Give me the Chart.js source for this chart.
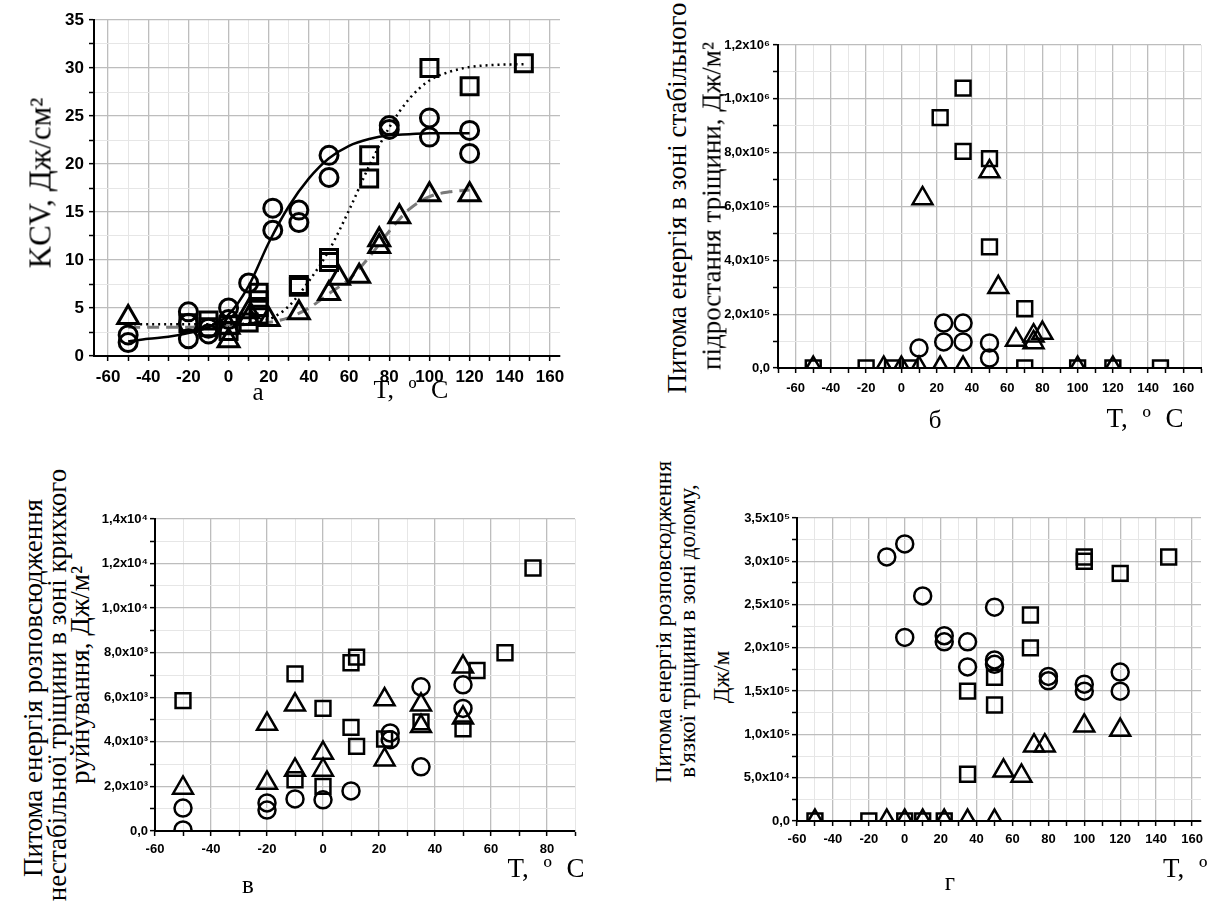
<!DOCTYPE html>
<html><head><meta charset="utf-8">
<script src="https://cdn.jsdelivr.net/npm/chart.js@4.4.0/dist/chart.umd.min.js"></script>
<style>
html,body{margin:0;padding:0;background:#fff;width:1215px;height:901px;overflow:hidden;position:relative;}
canvas{position:absolute;}
.lbl{position:absolute;font-family:"Liberation Serif","Times New Roman",serif;color:#000;white-space:pre;line-height:1;}
.rot{transform:translate(-50%,-50%) rotate(-90deg);}
.ctr{transform:translate(-50%,-50%);}
.tc{word-spacing:8px;}
</style></head><body>
<canvas id="ca" width="600" height="410" style="left:0;top:0"></canvas>
<canvas id="cb" width="495" height="440" style="left:720px;top:0"></canvas>
<canvas id="cc" width="500" height="451" style="left:100px;top:450px"></canvas>
<canvas id="cd" width="475" height="451" style="left:740px;top:450px"></canvas>

<div class="lbl rot" style="left:40px;top:183px;font-size:31px">KCV, Дж/см²</div>
<div class="lbl ctr" style="left:258px;top:391px;font-size:25px">а</div>
<div class="lbl ctr tc" style="left:411px;top:390px;font-size:26px">T, º C</div>

<div class="lbl rot" style="left:677px;top:198px;font-size:27px">Питома енергія в зоні стабільного</div>
<div class="lbl rot" style="left:712px;top:206px;font-size:27px">підростання тріщини, Дж/м²</div>
<div class="lbl ctr" style="left:935px;top:419px;font-size:25px">б</div>
<div class="lbl ctr tc" style="left:1145px;top:418px;font-size:27px">T, º C</div>

<div class="lbl rot" style="left:33px;top:688px;font-size:27px">Питома енергія розповсюдження</div>
<div class="lbl rot" style="left:57px;top:685px;font-size:27px">нестабільної тріщини в зоні крихкого</div>
<div class="lbl rot" style="left:80px;top:675px;font-size:27px">руйнування, Дж/м²</div>
<div class="lbl ctr" style="left:248px;top:884px;font-size:25px">в</div>
<div class="lbl ctr tc" style="left:546px;top:868px;font-size:27px">T, º C</div>

<div class="lbl rot" style="left:663px;top:622px;font-size:23px">Питома енергія розповсюдження</div>
<div class="lbl rot" style="left:687px;top:631px;font-size:23px">в'язкої тріщини в зоні долому,</div>
<div class="lbl rot" style="left:721px;top:677px;font-size:23px">Дж/м</div>
<div class="lbl ctr" style="left:950px;top:881px;font-size:25px">г</div>
<div class="lbl tc" style="left:1163px;top:855px;font-size:27px">T, º C</div>

<script>
// ---------- Panel а : KCV ----------
const A_circ_T = [-50,-50,-20,-20,-20,-10,-10,0,0,10,22,22,35,35,50,50,80,80,100,100,120,120];
const A_circ_V = [2.2,1.4,4.6,3.4,1.8,2.9,2.3,5.0,3.8,7.6,15.4,13.1,15.2,13.9,20.9,18.6,24.0,23.6,24.8,22.8,23.5,21.1];
const A_sq_T = [-20,-10,-10,0,0,10,15,15,15,15,35,35,50,50,70,70,100,120,147];
const A_sq_V = [3.4,3.7,3.0,3.2,2.6,3.5,6.6,5.8,5.1,4.3,7.4,7.2,10.2,9.8,20.9,18.5,30.0,28.1,30.5];
const A_tri_T = [-50,0,0,10,10,20,35,50,55,65,75,75,85,100,120];
const A_tri_V = [4.0,1.6,3.0,4.6,3.9,3.8,4.5,6.5,8.1,8.3,12.1,11.4,14.5,16.8,16.8];
// fitted curves
const A_fitC_T = [-50,-40,-30,-20,-10,0,10,20,30,40,50,60,70,80,90,100,110,120];
const A_fitC_V = [1.5,1.8,2.0,2.4,3.0,4.3,7.3,11.8,15.6,18.5,20.6,21.9,22.6,23.0,23.1,23.2,23.2,23.2];
const A_fitS_T = [-50,-40,-30,-20,-10,0,10,20,30,40,50,60,70,80,90,100,110,120,130,147];
const A_fitS_V = [3.3,3.3,3.3,3.3,3.3,3.3,3.4,3.8,5.2,7.8,11.0,15.2,19.8,23.8,26.8,28.7,29.6,30.1,30.3,30.4];
const A_fitT_T = [-50,-40,-30,-20,-10,0,10,20,30,40,50,60,70,80,90,100,110,120];
const A_fitT_V = [3.0,3.0,3.0,3.0,3.1,3.2,3.3,3.5,4.0,5.0,6.5,8.0,10.3,13.0,15.3,16.6,17.1,17.3];

// ---------- Panel б ----------
const B_sq_T = [-50,-20,-5,5,22,35,35,50,50,70,70,100,120,147];
const B_sq_V = [0,0,0,0,930000,1040000,805000,778000,450000,220000,0,0,0,0];
const B_tri_T = [-50,-10,0,10,12,22,35,50,55,65,75,75,80,100,120];
const B_tri_V = [0,0,0,0,630000,0,0,730000,300000,104000,120000,95000,130000,0,0];
const B_circ_T = [10,24,24,35,35,50,50];
const B_circ_V = [74000,167000,97000,167000,97000,93000,37000];

// ---------- Panel в ----------
const C_sq_T = [-50,-10,-10,0,0,10,10,12,12,22,35,50,55,65,75];
const C_sq_V = [5850,7050,2300,5500,2000,4650,7550,3800,7800,4130,4900,4580,7200,8000,11800];
const C_tri_T = [-50,-20,-20,-10,-10,0,0,22,22,35,35,50,50];
const C_tri_V = [1930,4800,2150,5660,2740,3500,2740,3200,5900,5660,4700,7370,5080];
const C_circ_T = [-50,-50,-20,-20,-10,0,10,24,24,35,35,50,50];
const C_circ_V = [1030,50,1260,940,1440,1400,1800,4400,4100,2880,6470,6560,5500];

// ---------- Panel г ----------
const D_circ_T = [-10,0,0,10,22,22,35,35,50,50,50,80,80,100,100,120,120];
const D_circ_V = [305000,320000,212000,260000,214000,207000,207000,178000,247000,186000,181000,167000,162000,158000,150000,172000,150000];
const D_sq_T = [-50,-20,0,10,22,35,35,50,50,70,70,100,100,120,147];
const D_sq_V = [0,0,0,0,0,150000,54000,166000,134000,238000,200000,305000,300000,286000,305000];
const D_tri_T = [-50,-10,0,10,22,35,50,55,65,72,78,100,120];
const D_tri_V = [0,0,0,0,0,0,0,58000,52000,87000,87000,110000,105000];

const MAJ = '#bdbdbd', MIN = '#e6e6e6';
const SUP = {'0':'⁰','1':'¹','2':'²','3':'³','4':'⁴','5':'⁵','6':'⁶','7':'⁷','8':'⁸','9':'⁹'};
function sci(v){
  if (Math.abs(v) < 1e-9) return '0,0';
  const e = Math.floor(Math.log10(v) + 1e-9);
  const m = v / Math.pow(10, e);
  return m.toFixed(1).replace('.', ',') + 'x10' + String(e).split('').map(c => SUP[c]).join('');
}
const pts = (T, V) => T.map((t, i) => ({x: t, y: V[i]}));

function marks(T, V, style, r, bw){
  return {data: pts(T, V), showLine: false, pointStyle: style, pointRadius: r, pointHoverRadius: r,
    borderColor: '#000', backgroundColor: 'rgba(0,0,0,0)', pointBorderWidth: bw, borderWidth: bw};
}
function curve(T, V, color, width, dash){
  return {data: pts(T, V), showLine: true, pointRadius: 0, pointHoverRadius: 0, borderColor: color,
    backgroundColor: color, borderWidth: width, borderDash: dash, tension: 0.4,
    cubicInterpolationMode: 'monotone', fill: false};
}

function panel(id, c){
  const isMaj = (v, minor, major) => Math.round(v / minor) % Math.round(major / minor) === 0;
  const font = {family: '"Liberation Sans", Arial, "DejaVu Sans", sans-serif', weight: 'bold', size: c.fs};
  return new Chart(document.getElementById(id), {
    type: 'scatter',
    data: {datasets: c.datasets},
    options: {
      responsive: false, animation: false, events: [],
      layout: {padding: {left: 0, top: c.padTop, right: c.padRight, bottom: 0}},
      plugins: {legend: {display: false}, tooltip: {enabled: false}},
      scales: {
        x: {type: 'linear', min: c.xmin, max: c.xmax,
          afterFit: s => { s.height = c.xH; },
          ticks: {stepSize: c.xMinor, includeBounds: false, autoSkip: false, maxRotation: 0, color: '#000',
            font: font, padding: c.xPad,
            callback: v => isMaj(v, c.xMinor, c.xMajor) ? String(v) : ''},
          grid: {color: g => (g.tick && isMaj(g.tick.value, c.xMinor, c.xMajor)) ? MAJ : MIN,
            lineWidth: g => (g.tick && isMaj(g.tick.value, c.xMinor, c.xMajor)) ? 1.3 : 1,
            tickColor: '#000', tickLength: 5, tickWidth: 1.5},
          border: {display: true, color: '#000', width: 2}},
        y: {type: 'linear', min: c.ymin, max: c.ymax,
          afterFit: s => { s.width = c.yW; },
          ticks: {stepSize: c.yMinor, autoSkip: false, color: '#000', font: font, padding: c.yPad,
            callback: v => isMaj(v, c.yMinor, c.yMajor) ? c.yFmt(v) : ''},
          grid: {color: g => (g.tick && isMaj(g.tick.value, c.yMinor, c.yMajor)) ? MAJ : MIN,
            lineWidth: g => (g.tick && isMaj(g.tick.value, c.yMinor, c.yMajor)) ? 1.3 : 1,
            tickColor: '#000', tickLength: 5, tickWidth: 1.5},
          border: {display: true, color: '#000', width: 2}}
      }
    }
  });
}

// а: canvas (0,0) 600x410, area left 94 top 20 right 560 bottom 356
panel('ca', {
  padTop: 20, padRight: 40, yW: 94, xH: 54, fs: 17, xPad: 6, yPad: 5,
  xmin: -67, xmax: 165, xMinor: 10, xMajor: 20,
  ymin: 0, ymax: 35, yMinor: 2.5, yMajor: 5, yFmt: v => String(v),
  datasets: [
    marks(A_circ_T, A_circ_V, 'circle', 9, 3),
    marks(A_sq_T, A_sq_V, 'rect', 12, 3),
    marks(A_tri_T, A_tri_V, 'triangle', 12, 3),
    curve(A_fitC_T, A_fitC_V, '#000', 2.5, []),
    curve(A_fitS_T, A_fitS_V, '#000', 2.5, [2, 4]),
    curve(A_fitT_T, A_fitT_V, '#7a7a7a', 3, [12, 7])
  ]
});

// б: canvas (720,0) 495x440, area left 778 top 45 right 1211 bottom 368
panel('cb', {
  padTop: 45, padRight: 4, yW: 58, xH: 72, fs: 13, xPad: 8, yPad: 3,
  xmin: -70, xmax: 170, xMinor: 10, xMajor: 20,
  ymin: 0, ymax: 1200000, yMinor: 100000, yMajor: 200000, yFmt: sci,
  datasets: [
    marks(B_circ_T, B_circ_V, 'circle', 8.5, 2.5),
    marks(B_sq_T, B_sq_V, 'rect', 10.5, 2.5),
    marks(B_tri_T, B_tri_V, 'triangle', 11.5, 2.5)
  ]
});

// в: canvas (100,450) 500x451, area left 155 top 519 right 575 bottom 831
panel('cc', {
  padTop: 69, padRight: 25, yW: 55, xH: 70, fs: 13, xPad: 6, yPad: 2,
  xmin: -60, xmax: 90, xMinor: 10, xMajor: 20,
  ymin: 0, ymax: 14000, yMinor: 1000, yMajor: 2000, yFmt: sci,
  datasets: [
    marks(C_circ_T, C_circ_V, 'circle', 8.5, 2.5),
    marks(C_sq_T, C_sq_V, 'rect', 10.5, 2.5),
    marks(C_tri_T, C_tri_V, 'triangle', 11.5, 2.5)
  ]
});

// г: canvas (740,450) 475x451, area left 797 top 518 right 1211 bottom 821
panel('cd', {
  padTop: 68, padRight: 4, yW: 57, xH: 80, fs: 13, xPad: 6, yPad: 2,
  xmin: -60, xmax: 165, xMinor: 10, xMajor: 20,
  ymin: 0, ymax: 350000, yMinor: 25000, yMajor: 50000, yFmt: sci,
  datasets: [
    marks(D_circ_T, D_circ_V, 'circle', 8.5, 2.5),
    marks(D_sq_T, D_sq_V, 'rect', 10.5, 2.5),
    marks(D_tri_T, D_tri_V, 'triangle', 11.5, 2.5)
  ]
});
</script>
</body></html>
